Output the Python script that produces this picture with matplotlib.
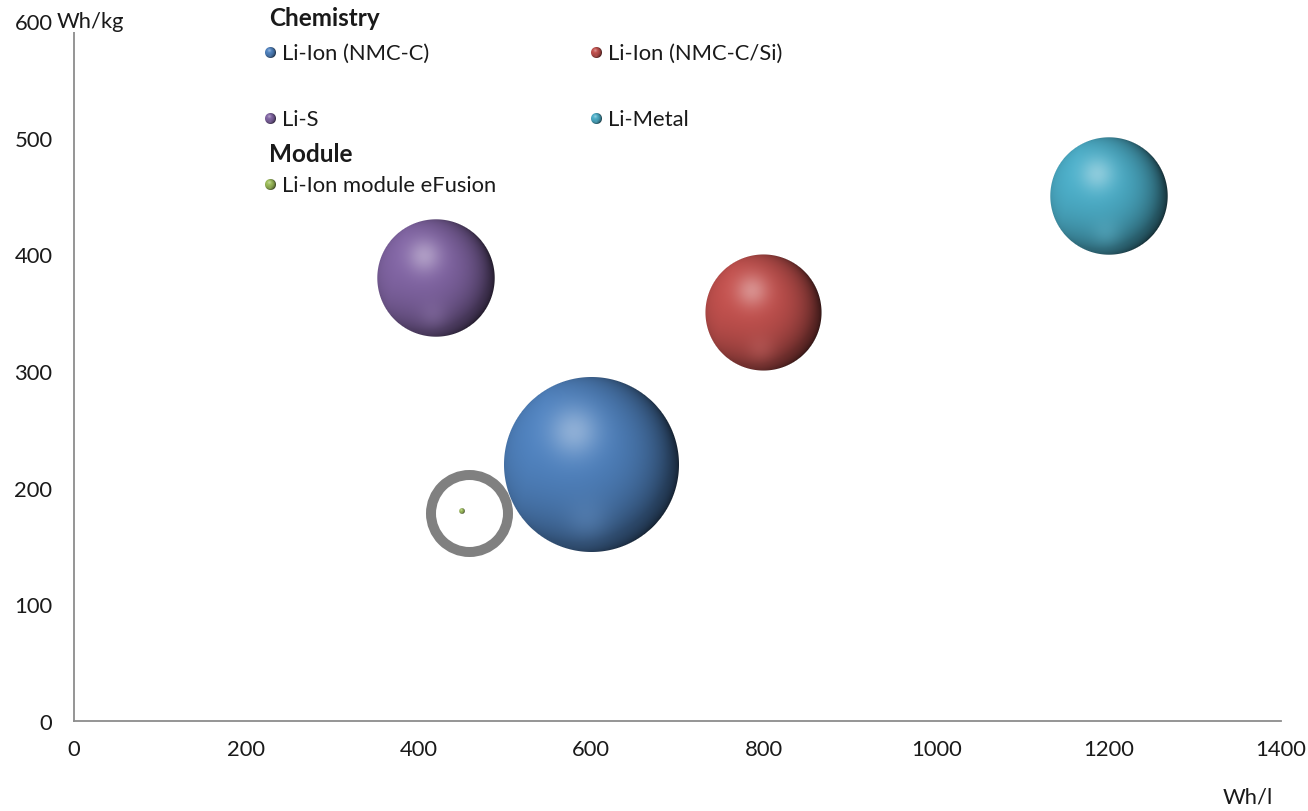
import numpy as np
import matplotlib
matplotlib.use("Agg")
import matplotlib.pyplot as plt
from matplotlib.colors import to_rgb
from matplotlib.offsetbox import OffsetImage, AnnotationBbox
from matplotlib.transforms import offset_copy

# ---- data -------------------------------------------------------------
series_names = ["Li-Ion (NMC-C)", "Li-Ion (NMC-C/Si)", "Li-S", "Li-Metal",
                "Li-Ion module eFusion"]
vol_energy = [600, 800, 420, 1200, 450]       # Wh/l
grav_energy = [220, 350, 380, 450, 180]       # Wh/kg
bubble_size = [1000, 440, 450, 450, 1]
series_colors = ["#4F81BD", "#C0504D", "#8064A2", "#4BACC6", "#9BBB59"]

x_ticks = [0, 200, 400, 600, 800, 1000, 1200, 1400]
y_ticks = [0, 100, 200, 300, 400, 500, 600]
highlight_point = (458, 178)                  # circled module point

W, H = 1308, 812
FONT = "Lato"
FS = 15.8
TXT = "#1a1a1a"


def sphere_rgba(color, radius):
    """Shaded sphere image (RGBA) of the given pixel radius."""
    R = float(radius)
    n = int(np.ceil(2 * R + 4))
    c = np.arange(n) - (n - 1) / 2.0
    X, Y = np.meshgrid(c, c)
    u, v = X / R, -Y / R
    d = np.hypot(X, Y)
    alpha = np.clip(R - d + 0.5, 0, 1)
    rr = np.clip(u ** 2 + v ** 2, 0, 1)
    w = np.sqrt(1 - rr)
    L = np.array([-0.35, 0.45, 0.82])
    L /= np.linalg.norm(L)
    diff = np.clip(u * L[0] + v * L[1] + w * L[2], 0, 1)
    rim = 1 - w
    side = np.clip(0.45 + 0.65 * u - 0.15 * v, 0, 1)
    shade = (0.72 + 0.32 * diff) * (1 - 0.72 * rim ** 1.2 * side)
    base = np.array(to_rgb(color))
    rgb = base[None, None, :] * shade[..., None]
    light = base + (1 - base) * 0.5
    spec = 0.70 * np.exp(-((u + 0.2) ** 2 + (v - 0.38) ** 2) / 0.08)
    refl = 0.35 * np.exp(-((u + 0.05) ** 2 + (v + 0.62) ** 2) / 0.06)
    rgb = rgb * (1 - spec[..., None]) + light * spec[..., None]
    lighter = base + (1 - base) * 0.15
    rgb = rgb * (1 - refl[..., None]) + lighter * refl[..., None]
    rgb = np.clip(rgb, 0, 1)
    return np.dstack([rgb, alpha])


fig = plt.figure(figsize=(W / 100, H / 100), dpi=100)
fig.patch.set_facecolor("white")
ax = fig.add_axes([74 / W, (H - 722) / H, (1281 - 74) / W, 700 / H])
ax.set_xlim(0, 1400)
ax.set_ylim(0, 600)
ax.set_xticks(x_ticks)
ax.set_yticks(y_ticks)
ax.tick_params(length=0, labelsize=FS, labelcolor=TXT)
ax.tick_params(axis="x", pad=13)
ax.tick_params(axis="y", pad=15.5)
for lab in ax.get_xticklabels() + ax.get_yticklabels():
    lab.set_fontfamily(FONT)
for side in ("top", "right"):
    ax.spines[side].set_visible(False)
for side in ("left", "bottom"):
    ax.spines[side].set_color("#8c8c8c")
    ax.spines[side].set_linewidth(1.3)

# bubble scale: largest bubble diameter = 25 % of the smaller plot side
bb = ax.get_window_extent()
r_max = 0.125 * min(bb.width, bb.height)
s_max = max(bubble_size)

for x, y, s, col in zip(vol_energy, grav_energy, bubble_size, series_colors):
    r = max(r_max * np.sqrt(s / s_max), 2.8)
    img = OffsetImage(sphere_rgba(col, r), zoom=1, dpi_cor=False)
    ab = AnnotationBbox(img, (x, y), frameon=False, pad=0,
                        box_alignment=(0.5, 0.5), zorder=3)
    ax.add_artist(ab)

# grey ring around the module point
ax.plot([highlight_point[0]], [highlight_point[1]], marker="o",
        markersize=77 * 0.72, markerfacecolor="none",
        markeredgecolor="#808080", markeredgewidth=10 * 0.72, zorder=5,
        clip_on=False)

# axis titles
ax.text(0, 600, "Wh/kg", fontsize=FS, family=FONT, color=TXT,
        va="center", ha="left", zorder=6,
        transform=offset_copy(ax.transData, fig=fig, x=-17, y=0,
                              units="dots"),
        bbox=dict(facecolor="white", edgecolor="none", pad=1))
fig.text(1248 / W, 1 - 798 / H, "Wh/l", fontsize=FS, family=FONT,
         color=TXT, ha="center", va="center")


# legend
def fig_xy(px, py):
    return px / W, 1 - py / H


fig.text(*fig_xy(269, 18), "Chemistry", fontsize=17.5, family=FONT,
         weight="bold", color=TXT, va="center", ha="left")
fig.text(*fig_xy(269, 155), "Module", fontsize=17.5, family=FONT,
         weight="bold", color=TXT, va="center", ha="left")
legend_pos = [(270, 54), (596, 54), (270, 120), (596, 120), (270, 186)]
for name, col, (px, py) in zip(series_names, series_colors, legend_pos):
    img = OffsetImage(sphere_rgba(col, 5.5), zoom=1, dpi_cor=False)
    ab = AnnotationBbox(img, (px, H - py), xycoords="figure pixels",
                        frameon=False, pad=0, box_alignment=(0.5, 0.5))
    fig.add_artist(ab)
    fig.text(*fig_xy(px + 12, py), name, fontsize=FS, family=FONT,
             color=TXT, va="center", ha="left")

fig.savefig("out.png", dpi=100, facecolor="white")
